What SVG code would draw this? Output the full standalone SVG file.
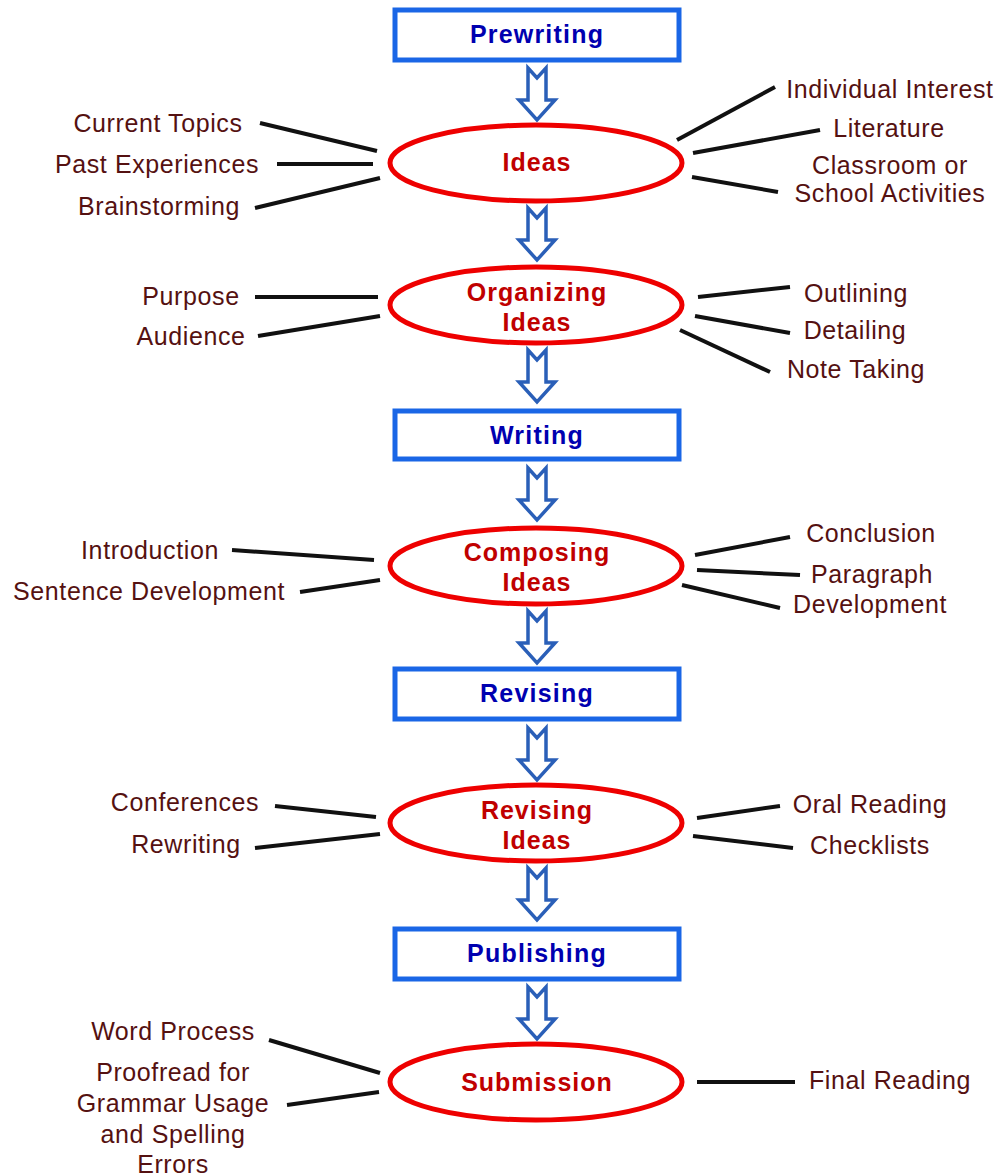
<svg xmlns="http://www.w3.org/2000/svg" width="997" height="1176" viewBox="0 0 997 1176">
<defs>
<style>
.box{fill:#fff;stroke:#1a66e6;stroke-width:5}
.ell{fill:#fff;stroke:#ee0000;stroke-width:5}
.bt{font-family:"Liberation Sans",Arial,sans-serif;font-weight:bold;font-size:25px;fill:#0000b0;text-anchor:middle;letter-spacing:1.2px}
.et{font-family:"Liberation Sans",Arial,sans-serif;font-weight:bold;font-size:25px;fill:#c00000;text-anchor:middle;letter-spacing:1px}
.lb{font-family:"Liberation Sans",Arial,sans-serif;font-size:25px;fill:#551111;text-anchor:middle;letter-spacing:0.6px}
.ln{stroke:#111;stroke-width:4;fill:none}
.ar{fill:#fff;stroke:#2a5fb8;stroke-width:3.5;stroke-linejoin:miter}
</style>
<path id="arr" d="M-9,0 L0,10 L9,0 L9,32 L18,32 L0,52 L-18,32 L-9,32 Z"/>
</defs>
<rect width="997" height="1176" fill="#fff"/>

<g id="connectors">
<use href="#arr" class="ar" x="537" y="68"/>
<use href="#arr" class="ar" x="537" y="208"/>
<use href="#arr" class="ar" x="537" y="350"/>
<use href="#arr" class="ar" x="537" y="468"/>
<use href="#arr" class="ar" x="537" y="611"/>
<use href="#arr" class="ar" x="537" y="728"/>
<use href="#arr" class="ar" x="537" y="868"/>
<use href="#arr" class="ar" x="537" y="987"/>

<line class="ln" x1="260" y1="123" x2="377" y2="151"/>
<line class="ln" x1="277" y1="164" x2="373" y2="164"/>
<line class="ln" x1="255" y1="208" x2="380" y2="178"/>
<line class="ln" x1="677" y1="140" x2="775" y2="87"/>
<line class="ln" x1="693" y1="153" x2="820" y2="130"/>
<line class="ln" x1="692" y1="177" x2="778" y2="192"/>

<line class="ln" x1="255" y1="297" x2="378" y2="297"/>
<line class="ln" x1="258" y1="336" x2="380" y2="316"/>
<line class="ln" x1="698" y1="297" x2="790" y2="287"/>
<line class="ln" x1="695" y1="316" x2="790" y2="333"/>
<line class="ln" x1="680" y1="330" x2="770" y2="372"/>

<line class="ln" x1="232" y1="550" x2="374" y2="560"/>
<line class="ln" x1="300" y1="592" x2="380" y2="580"/>
<line class="ln" x1="695" y1="555" x2="790" y2="537"/>
<line class="ln" x1="697" y1="570" x2="800" y2="575"/>
<line class="ln" x1="682" y1="585" x2="780" y2="608"/>

<line class="ln" x1="275" y1="806" x2="376" y2="817"/>
<line class="ln" x1="255" y1="848" x2="380" y2="834"/>
<line class="ln" x1="697" y1="818" x2="780" y2="806"/>
<line class="ln" x1="693" y1="836" x2="793" y2="848"/>

<line class="ln" x1="269" y1="1040" x2="380" y2="1073"/>
<line class="ln" x1="287" y1="1105" x2="379" y2="1092"/>
<line class="ln" x1="697" y1="1082" x2="795" y2="1082"/>
</g>

<g id="prewriting"><rect class="box" x="395" y="10" width="284" height="50"/><text class="bt" x="537" y="43">Prewriting</text></g>
<g id="writing"><rect class="box" x="395" y="411" width="284" height="48"/><text class="bt" x="537" y="444">Writing</text></g>
<g id="revising"><rect class="box" x="395" y="669" width="284" height="50"/><text class="bt" x="537" y="702">Revising</text></g>
<g id="publishing"><rect class="box" x="395" y="929" width="284" height="50"/><text class="bt" x="537" y="962">Publishing</text></g>

<g id="ideas"><ellipse class="ell" cx="536" cy="163" rx="146" ry="38"/><text class="et" x="537" y="171">Ideas</text></g>
<g id="organizing-ideas"><ellipse class="ell" cx="536" cy="305" rx="146" ry="38"/><text class="et" x="537" y="301">Organizing</text><text class="et" x="537" y="331">Ideas</text></g>
<g id="composing-ideas"><ellipse class="ell" cx="536" cy="566" rx="146" ry="38"/><text class="et" x="537" y="561">Composing</text><text class="et" x="537" y="591">Ideas</text></g>
<g id="revising-ideas"><ellipse class="ell" cx="536" cy="823" rx="146" ry="38"/><text class="et" x="537" y="819">Revising</text><text class="et" x="537" y="849">Ideas</text></g>
<g id="submission"><ellipse class="ell" cx="536" cy="1082" rx="146" ry="38"/><text class="et" x="537" y="1091">Submission</text></g>

<g id="labels">
<text class="lb" x="158" y="132">Current Topics</text>
<text class="lb" x="157" y="173">Past Experiences</text>
<text class="lb" x="159" y="215">Brainstorming</text>
<text class="lb" x="890" y="98">Individual Interest</text>
<text class="lb" x="889" y="137">Literature</text>
<text class="lb" x="890" y="174">Classroom or</text>
<text class="lb" x="890" y="202">School Activities</text>

<text class="lb" x="191" y="305">Purpose</text>
<text class="lb" x="191" y="345">Audience</text>
<text class="lb" x="856" y="302">Outlining</text>
<text class="lb" x="855" y="339">Detailing</text>
<text class="lb" x="856" y="378">Note Taking</text>

<text class="lb" x="150" y="559">Introduction</text>
<text class="lb" x="149" y="600">Sentence Development</text>
<text class="lb" x="871" y="542">Conclusion</text>
<text class="lb" x="872" y="583">Paragraph</text>
<text class="lb" x="870" y="613">Development</text>

<text class="lb" x="185" y="811">Conferences</text>
<text class="lb" x="186" y="853">Rewriting</text>
<text class="lb" x="870" y="813">Oral Reading</text>
<text class="lb" x="870" y="854">Checklists</text>

<text class="lb" x="173" y="1040">Word Process</text>
<text class="lb" x="173" y="1081">Proofread for</text>
<text class="lb" x="173" y="1112">Grammar Usage</text>
<text class="lb" x="173" y="1143">and Spelling</text>
<text class="lb" x="173" y="1173">Errors</text>
<text class="lb" x="890" y="1089">Final Reading</text>
</g>
</svg>
